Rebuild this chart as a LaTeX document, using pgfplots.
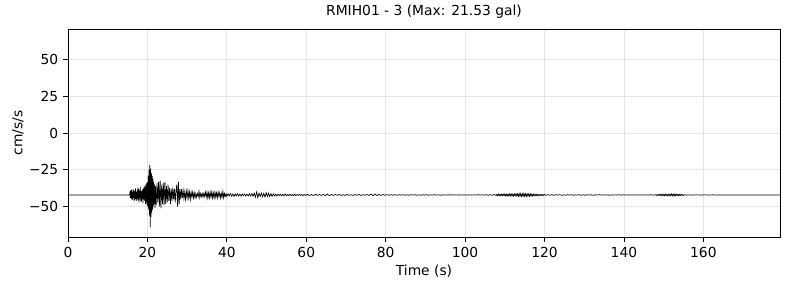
\documentclass[border=0pt]{standalone}
\usepackage{pgfplots}
\pgfplotsset{compat=1.18}
\usepackage{pgfplotstable}
\usepackage{fontspec}
\setmainfont{DejaVu Sans}
\definecolor{gridc}{HTML}{E6E6E6}
\pgfplotstableread[row sep=\\]{
t d\\
0 0\\ 15.5 0\\
15.6 1.5\\ 15.7 -2\\ 15.8 3\\ 15.9 -2.5\\ 16.0 3.5\\ 16.1 -3\\ 16.2 2\\ 16.3 -3.5\\ 16.4 4\\ 16.5 -2\\
16.6 3\\ 16.7 -4\\ 16.8 2.5\\ 16.9 -3\\ 17.0 4.5\\ 17.1 -3\\ 17.2 2\\ 17.3 -4\\ 17.4 3\\ 17.5 -2.5\\
17.6 5\\ 17.7 -3.5\\ 17.8 4\\ 17.9 -5\\ 18.0 3\\ 18.1 -2\\ 18.2 5.5\\ 18.3 -4\\ 18.4 3\\ 18.5 -4.5\\
18.6 2.5\\ 18.7 -3\\ 18.8 4\\ 18.9 -5.5\\ 19.0 4.5\\ 19.1 -3\\ 19.2 6\\ 19.3 -4\\ 19.4 5\\ 19.5 -6\\
19.6 7\\ 19.7 -5\\ 19.8 8\\ 19.9 -7\\ 20.0 9\\ 20.1 -8\\ 20.2 13\\ 20.3 -10\\ 20.4 17\\ 20.5 -14\\
20.6 20.5\\ 20.7 -22\\ 20.8 18\\ 20.9 -15\\ 21.0 15\\ 21.1 -12\\ 21.2 13\\ 21.3 -10\\ 21.4 11\\ 21.5 -8\\
21.6 9\\ 21.7 -6\\ 21.8 7\\ 21.9 -9\\ 22.0 6\\ 22.2 -7\\ 22.4 8\\ 22.6 -5\\ 22.8 9\\ 23.0 -8\\
23.2 10\\ 23.4 -9\\ 23.6 7\\ 23.8 -6\\ 24.0 8\\ 24.2 -7\\ 24.4 9\\ 24.6 -6\\ 24.8 6\\ 25.0 -5\\
25.2 7\\ 25.4 -4\\ 25.6 5\\ 25.8 -6\\ 26.0 4\\ 26.2 -4\\ 26.4 5\\ 26.6 -3\\ 26.8 4\\ 27.0 -5\\
27.2 3\\ 27.4 7\\ 27.6 -8\\ 27.8 9\\ 28.0 -6\\ 28.2 4\\ 28.4 -3\\ 28.6 4\\ 28.8 -2\\ 29.0 3\\
29.2 -2.5\\ 29.4 2\\ 29.6 -3\\ 29.8 2.5\\ 30.0 -2\\ 30.2 3\\ 30.4 -2\\ 30.6 2\\ 30.8 -3\\ 31.0 2\\
31.2 -1.5\\ 31.4 2\\ 31.6 -2\\ 31.8 1.5\\ 32.0 -2\\ 32.2 1\\ 32.4 -1.5\\ 32.6 1\\ 32.8 -1\\ 33.0 2.5\\
33.2 -2\\ 33.4 1\\ 33.6 -1\\ 33.8 1\\ 34.0 -1.5\\ 34.2 1\\ 34.4 -1\\ 34.6 2\\ 34.8 -1.5\\ 35.0 2\\
35.2 -2\\ 35.4 1.5\\ 35.6 -2\\ 35.8 2\\ 36.0 -1.5\\ 36.2 2\\ 36.4 -2\\ 36.6 1.5\\ 36.8 -2\\ 37.0 2\\
37.2 -1.5\\ 37.4 1.5\\ 37.6 -2\\ 37.8 2\\ 38.0 -1\\ 38.2 1.5\\ 38.4 -2\\ 38.6 1\\ 38.8 -1.5\\ 39.0 2.5\\
39.2 -2\\ 39.4 1\\ 39.6 -1\\ 39.8 0.8\\ 40.0 -1\\
40.3 0.8\\ 40.6 -0.7\\ 40.9 0.9\\ 41.2 -0.8\\ 41.5 0.6\\ 41.8 -0.9\\ 42.1 0.7\\ 42.4 -0.6\\ 42.7 0.8\\ 43.0 -0.7\\
43.3 0.6\\ 43.6 -0.8\\ 43.9 0.7\\ 44.2 -0.5\\ 44.5 0.6\\ 44.8 -0.7\\ 45.1 0.5\\ 45.4 -0.6\\ 45.7 0.8\\ 46.0 -0.7\\
46.3 0.9\\ 46.6 -0.8\\ 46.9 1.2\\ 47.2 -1.5\\ 47.5 2\\ 47.8 -1.8\\ 48.1 1.2\\ 48.4 -1\\ 48.7 1.3\\ 49.0 -1.2\\
49.3 1\\ 49.6 -1.3\\ 49.9 1.5\\ 50.2 -1\\ 50.5 1.2\\ 50.8 -1.1\\ 51.1 0.8\\ 51.4 -0.9\\ 51.7 0.7\\ 52.0 -0.6\\
52.3 0.5\\ 52.6 -0.6\\ 52.9 0.5\\ 53.2 -0.4\\ 53.5 0.5\\ 53.8 -0.6\\ 54.1 0.4\\ 54.4 -0.5\\ 54.7 0.6\\ 55.0 -0.5\\
55.3 0.4\\ 55.6 -0.4\\ 55.9 0.5\\ 56.2 -0.4\\ 56.5 0.3\\ 56.8 -0.4\\ 57.1 0.5\\ 57.4 -0.4\\ 57.7 0.3\\ 58.0 -0.3\\
58.3 0.4\\ 58.6 -0.3\\ 58.9 0.3\\ 59.2 -0.4\\ 59.5 0.3\\ 59.8 -0.3\\
60.3 0.4\\ 60.8 -0.3\\ 61.3 0.3\\ 61.8 -0.4\\ 62.3 0.5\\ 62.8 -0.3\\ 63.3 0.3\\ 63.8 -0.3\\ 64.3 0.4\\ 64.8 -0.4\\
65.3 0.7\\ 65.8 -0.5\\ 66.3 0.3\\ 66.8 -0.3\\ 67.3 0.3\\ 67.8 -0.2\\ 68.3 0.3\\ 68.8 -0.3\\ 69.3 0.2\\ 69.8 -0.3\\
70.3 0.3\\ 70.8 -0.2\\ 71.3 0.2\\ 71.8 -0.3\\ 72.3 0.3\\ 72.8 -0.2\\ 73.3 0.3\\ 73.8 -0.3\\ 74.3 0.2\\ 74.8 -0.2\\
75.3 0.3\\ 75.8 -0.3\\ 76.3 0.5\\ 76.8 -0.5\\ 77.3 0.6\\ 77.8 -0.4\\ 78.3 0.4\\ 78.8 -0.3\\ 79.3 0.3\\ 79.8 -0.2\\
80.3 0.2\\ 80.8 -0.2\\ 81.3 0.2\\ 81.8 -0.2\\ 82.3 0.2\\ 82.8 -0.2\\ 83.3 0.2\\ 83.8 -0.1\\ 84.3 0.2\\ 84.8 -0.2\\
85.3 0.1\\ 85.8 -0.2\\ 86.3 0.2\\ 86.8 -0.1\\ 87.3 0.2\\ 87.8 -0.2\\ 88.3 0.1\\ 88.8 -0.2\\ 89.3 0.2\\ 89.8 -0.1\\
90.3 0.2\\ 90.8 -0.2\\ 91.3 0.1\\ 91.8 -0.1\\ 92.3 0.2\\ 92.8 -0.1\\ 93.3 0.1\\ 93.8 -0.2\\ 94.3 0.1\\ 94.8 -0.1\\
95.3 0.1\\ 95.8 -0.1\\ 96.3 0.2\\ 96.8 -0.1\\ 97.3 0.1\\ 97.8 -0.1\\ 98.3 0.1\\ 98.8 -0.1\\ 99.3 0.1\\ 99.8 -0.1\\
100.3 0.1\\ 100.8 -0.1\\ 101.3 0.1\\ 101.8 -0.1\\ 102.3 0.1\\ 102.8 -0.1\\ 103.3 0.2\\ 103.8 -0.1\\ 104.3 0.1\\ 104.8 -0.1\\
105.3 0.2\\ 105.8 -0.2\\ 106.3 0.2\\ 106.8 -0.2\\ 107.3 0.3\\ 107.8 -0.3\\
108.0 0.4\\ 108.2 -0.5\\ 108.4 0.6\\ 108.6 -0.4\\ 108.8 0.5\\ 109.0 -0.6\\ 109.2 0.5\\ 109.4 -0.4\\ 109.6 0.6\\ 109.8 -0.5\\
110.0 0.7\\ 110.2 -0.6\\ 110.4 0.5\\ 110.6 -0.7\\ 110.8 0.6\\ 111.0 -0.5\\ 111.2 0.7\\ 111.4 -0.6\\ 111.6 0.8\\ 111.8 -0.7\\
112.0 0.6\\ 112.2 -0.8\\ 112.4 0.7\\ 112.6 -0.6\\ 112.8 0.9\\ 113.0 -0.7\\ 113.2 0.8\\ 113.4 -0.9\\ 113.6 1.0\\ 113.8 -0.8\\
114.0 0.9\\ 114.2 -1.0\\ 114.4 0.8\\ 114.6 -0.9\\ 114.8 1.1\\ 115.0 -0.9\\ 115.2 0.8\\ 115.4 -1.0\\ 115.6 0.9\\ 115.8 -0.8\\
116.0 0.7\\ 116.2 -0.9\\ 116.4 0.8\\ 116.6 -0.7\\ 116.8 0.6\\ 117.0 -0.7\\ 117.2 0.6\\ 117.4 -0.5\\ 117.6 0.6\\ 117.8 -0.5\\
118.0 0.4\\ 118.2 -0.5\\ 118.4 0.4\\ 118.6 -0.4\\ 118.8 0.3\\ 119.0 -0.4\\ 119.2 0.3\\ 119.4 -0.3\\ 119.6 0.3\\ 119.8 -0.3\\
120.0 0.3\\ 120.4 -0.2\\ 120.8 0.2\\
121.3 -0.2\\ 121.8 0.2\\ 122.3 -0.2\\ 122.8 0.2\\ 123.3 -0.1\\ 123.8 0.2\\ 124.3 -0.2\\ 124.8 0.1\\ 125.3 -0.2\\ 125.8 0.2\\
126.3 -0.1\\ 126.8 0.2\\ 127.3 -0.2\\ 127.8 0.1\\ 128.3 -0.1\\ 128.8 0.2\\ 129.3 -0.2\\ 129.8 0.1\\ 130.3 -0.2\\ 130.8 0.2\\
131.3 -0.1\\ 131.8 0.1\\ 132.3 -0.2\\ 132.8 0.1\\ 133.3 -0.1\\ 133.8 0.2\\ 134.3 -0.1\\ 134.8 0.1\\ 135.3 -0.1\\ 135.8 0.1\\
136.3 -0.2\\ 136.8 0.1\\ 137.3 -0.1\\ 137.8 0.1\\ 138.3 -0.1\\ 138.8 0.2\\ 139.3 -0.1\\ 139.8 0.1\\ 140.3 -0.1\\ 140.8 0.1\\
141.3 -0.1\\ 141.8 0.1\\ 142.3 -0.1\\ 142.8 0.1\\ 143.3 -0.1\\ 143.8 0.1\\ 144.3 -0.1\\ 144.8 0.1\\ 145.3 -0.1\\ 145.8 0.1\\
146.3 -0.1\\ 146.8 0.2\\ 147.3 -0.2\\ 147.8 0.2\\
148.2 -0.3\\ 148.4 0.3\\ 148.6 -0.4\\ 148.8 0.4\\ 149.0 -0.3\\ 149.2 0.5\\ 149.4 -0.4\\ 149.6 0.5\\ 149.8 -0.5\\ 150.0 0.4\\
150.2 -0.5\\ 150.4 0.6\\ 150.6 -0.4\\ 150.8 0.5\\ 151.0 -0.6\\ 151.2 0.5\\ 151.4 -0.4\\ 151.6 0.6\\ 151.8 -0.5\\ 152.0 0.7\\
152.2 -0.6\\ 152.4 0.5\\ 152.6 -0.7\\ 152.8 0.6\\ 153.0 -0.5\\ 153.2 0.6\\ 153.4 -0.5\\ 153.6 0.4\\ 153.8 -0.5\\ 154.0 0.4\\
154.2 -0.3\\ 154.4 0.4\\ 154.6 -0.3\\ 154.8 0.2\\ 155.0 -0.3\\ 155.4 0.2\\ 155.8 -0.2\\
156.3 0.1\\ 157.3 -0.1\\ 158.3 0.1\\ 159.3 -0.1\\ 160.3 0.1\\ 161.3 -0.1\\ 162.3 0.1\\ 163.3 -0.1\\ 164.3 0.05\\ 165.3 -0.05\\
166.3 0.05\\ 168 0\\ 179.3 0\\
}\trace
\begin{document}
\begin{tikzpicture}
\begin{axis}[
  scale only axis,
  width=7.12in, height=2.08in,
  xmin=0, xmax=179.3, ymin=-71, ymax=71,
  xtick={0,20,40,60,80,100,120,140,160},
  ytick={-50,-25,0,25,50},
  yticklabels={−50,−25,0,25,50},
  /pgf/number format/assume math mode=true,
  tick label style={font=\fontsize{10}{12}\selectfont},
  label style={font=\fontsize{10}{12}\selectfont},
  title style={font=\fontsize{10}{12}\selectfont, yshift=-2pt},
  title={RMIH01 - 3 (Max: 21.53 gal)},
  xlabel={Time (s)},
  ylabel={cm/s/s},
  tick align=outside,
  xtick pos=bottom, ytick pos=left,
  major tick length=3.5pt,
  every tick/.style={black, line width=0.6pt},
  axis line style={line width=0.6pt},
  grid=major,
  major grid style={gridc, line width=0.6pt},
  xlabel style={yshift=1pt},
  ylabel style={yshift=-3pt},
]
\addplot[black, line width=0.5pt] table[x=t, y expr=\thisrow{d}-42.3] {\trace};
\end{axis}
\path[use as bounding box] ([shift={(-0.68in,-0.53in)}]current axis.south west) rectangle ([shift={(0.09in,0.29in)}]current axis.north east);
\end{tikzpicture}
\end{document}
